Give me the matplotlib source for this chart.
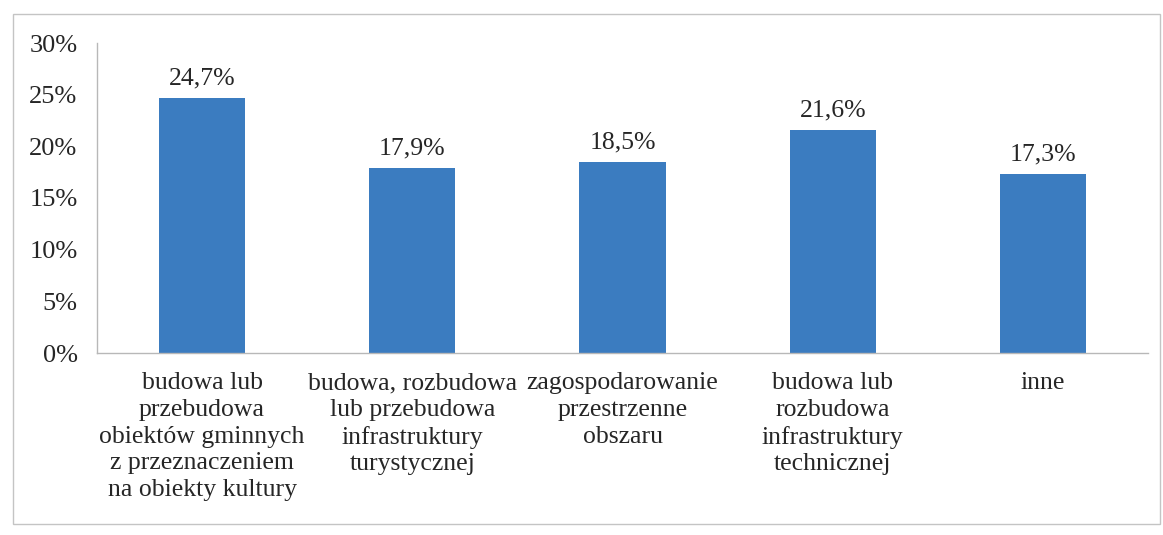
import matplotlib
matplotlib.use("Agg")
import matplotlib.pyplot as plt
from matplotlib.patches import Rectangle
from matplotlib.ticker import FuncFormatter

# Udział projektów według rodzaju inwestycji
categories = [
    "budowa lub\nprzebudowa\nobiektów gminnych\nz przeznaczeniem\nna obiekty kultury",
    "budowa, rozbudowa\nlub przebudowa\ninfrastruktury\nturystycznej",
    "zagospodarowanie\nprzestrzenne\nobszaru",
    "budowa lub\nrozbudowa\ninfrastruktury\ntechnicznej",
    "inne",
]
shares = [24.7, 17.9, 18.5, 21.6, 17.3]
y_ticks = [0, 5, 10, 15, 20, 25, 30]

BAR_COLOR = "#3b7cc0"
TEXT_COLOR = "#262626"
LINE_COLOR = "#b8b8b8"

plt.rcParams["font.family"] = ["Liberation Serif", "DejaVu Serif"]

fig = plt.figure(figsize=(11.63, 5.35), dpi=100)
fig.patch.set_facecolor("white")

# outer chart frame
fig.patches.append(Rectangle((13 / 1163, 1 - 524 / 535), 1147 / 1163, 510 / 535,
                             transform=fig.transFigure, fill=False,
                             edgecolor="#c4c4c4", linewidth=1.0))

ax = fig.add_axes([97 / 1163, 1 - 353 / 535, 1051 / 1163, 310 / 535])
x = range(len(categories))
ax.bar(x, shares, width=0.41, color=BAR_COLOR)

for xi, v in zip(x, shares):
    ax.annotate(f"{v:.1f}".replace(".", ",") + "%", (xi, v),
                xytext=(0, 6), textcoords="offset points",
                ha="center", va="bottom", fontsize=18.5, color=TEXT_COLOR)

ax.set_xlim(-0.5, len(categories) - 0.5)
ax.set_ylim(0, 30)
ax.set_yticks(y_ticks)
ax.yaxis.set_major_formatter(FuncFormatter(lambda v, _: f"{v:.0f}%"))
ax.set_xticks(list(x))
ax.set_xticklabels(categories, fontsize=18.5, color=TEXT_COLOR, linespacing=1.27)
ax.tick_params(axis="y", length=0, pad=14, labelsize=19, labelcolor=TEXT_COLOR)
ax.tick_params(axis="x", length=0, pad=14)
for lab in ax.get_xticklabels():
    lab.set_verticalalignment("top")
    lab.set_horizontalalignment("center")

for side in ("top", "right"):
    ax.spines[side].set_visible(False)
for side in ("left", "bottom"):
    ax.spines[side].set_color(LINE_COLOR)
    ax.spines[side].set_linewidth(1.0)

fig.savefig("out.png", dpi=100, facecolor="white")
